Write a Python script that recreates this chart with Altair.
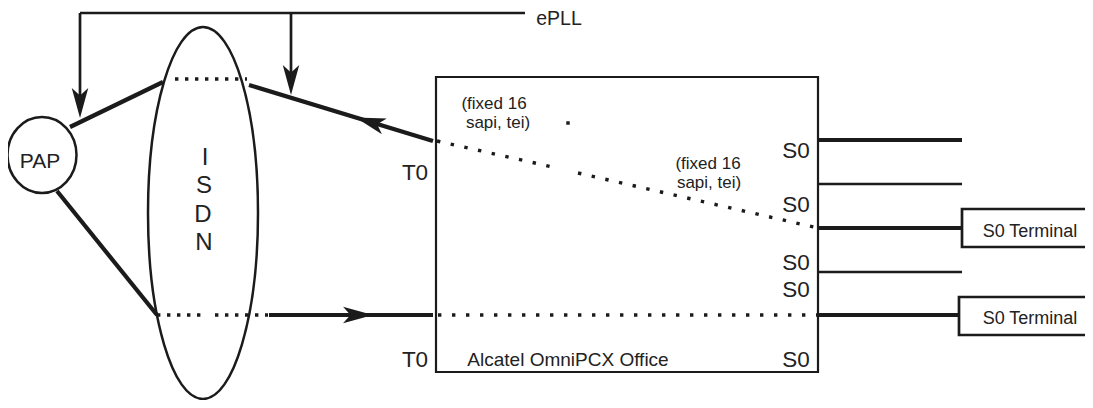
import altair as alt
import pandas as pd

FONT = "Liberation Sans"
INK = "#1b1b1b"

# ---- diagram geometry (pixel coordinates) ----
thick_segments = [  # x1, y1, x2, y2
    (70, 127, 163, 82),
    (249, 85, 433, 141),
    (57, 191, 157, 315),
    (269, 315, 433, 315),
    (818, 140, 962, 140),
    (818, 228, 962, 228),
    (818, 315, 960, 315),
]
medium_segments = [
    (80, 13, 525, 13),
    (80, 13, 80, 100),
    (291, 13, 291, 78),
    (818, 184, 962, 184),
    (818, 272, 962, 272),
]
dotted_isdn = [
    (175, 79, 247, 79),
    (157, 315, 201, 315),
    (215, 315, 268, 315),
]
dotted_box = [
    (437, 141, 557, 168),
    (578, 173, 818, 228),
    (438, 315, 818, 315),
]
lone_dot_x = [568]
lone_dot_y = [123]

boxes = [  # x1, y1, x2, y2
    (436, 77, 818, 372),
    (962, 209, 1100, 247),
    (959, 297, 1100, 335),
]
box_widths = [2.2, 2.7, 2.7]

arrow_x = [80, 291, 370, 358]
arrow_y = [103, 80, 122, 315]
arrow_angle = [180, 180, 287, 90]

# ellipse (ISDN) and circle (PAP)
ellipse_cx = [203, 42]
ellipse_cy = [213, 155]
ellipse_ry = [186, 38]

labels = ["ePLL", "PAP", "I", "S", "D", "N", "T0", "T0",
          "(fixed 16", "sapi, tei)", "(fixed 16", "sapi, tei)",
          "Alcatel OmniPCX Office",
          "S0", "S0", "S0", "S0", "S0",
          "S0 Terminal", "S0 Terminal"]
label_x = [559, 40, 205, 204, 203, 204, 415, 415,
           494, 498, 708, 709,
           568,
           796, 796, 796, 796, 796,
           1030, 1030]
label_y = [25, 168, 165, 193, 222, 250, 180, 367,
           109, 128, 169, 188,
           366,
           158, 212, 270, 297, 367,
           237, 324]
label_size = [19.5, 21, 24, 24, 24, 24, 22.5, 22.5,
              17, 17, 17, 17,
              19,
              22.5, 22.5, 22.5, 22.5, 22.5,
              18, 18]

ARROW = "M0,-1 L0.55,1 L0,0.5 L-0.55,1 Z"
ISDN_SHAPE = ("M0,-1 C0.1634,-1 0.2957,-0.5523 0.2957,0 C0.2957,0.5523 0.1634,1 0,1 "
              "C-0.1634,1 -0.2957,0.5523 -0.2957,0 C-0.2957,-0.5523 -0.1634,-1 0,-1 Z")
PAP_SHAPE = ("M0,-1 C0.5015,-1 0.908,-0.5523 0.908,0 C0.908,0.5523 0.5015,1 0,1 "
             "C-0.5015,1 -0.908,0.5523 -0.908,0 C-0.908,-0.5523 -0.5015,-1 0,-1 Z")

W, H = 1077, 392
xs = alt.Scale(domain=[8, 8 + W], nice=False, zero=False)
ys = alt.Scale(domain=[8, 8 + H], nice=False, zero=False, reverse=True)


def seg_df(segs):
    return pd.DataFrame(segs, columns=["x1", "y1", "x2", "y2"])


def seg_layer(segs, **kw):
    return alt.Chart(seg_df(segs)).mark_rule(color=INK, **kw).encode(
        x=alt.X("x1:Q", scale=xs, axis=None),
        y=alt.Y("y1:Q", scale=ys, axis=None),
        x2="x2:Q", y2="y2:Q")


box_df = seg_df(boxes)
box_df["sw"] = box_widths
box_layer = alt.Chart(box_df).mark_rect(filled=False, stroke=INK).encode(
    x=alt.X("x1:Q", scale=xs, axis=None),
    y=alt.Y("y1:Q", scale=ys, axis=None),
    x2="x2:Q", y2="y2:Q",
    strokeWidth=alt.StrokeWidth("sw:Q", scale=None, legend=None))

thick = seg_layer(thick_segments, strokeWidth=4.2, strokeCap="butt")
medium = seg_layer(medium_segments, strokeWidth=2.7, strokeCap="butt")
dots1 = seg_layer(dotted_isdn, strokeWidth=3.4, strokeDash=[3.4, 6.6], strokeCap="butt")
dots2 = seg_layer(dotted_box, strokeWidth=3.4, strokeDash=[3.4, 10.6], strokeCap="butt")

lone = alt.Chart(pd.DataFrame({"x": lone_dot_x, "y": lone_dot_y})).mark_point(
    shape="square", filled=True, color=INK, size=12, opacity=1).encode(
    x=alt.X("x:Q", scale=xs, axis=None), y=alt.Y("y:Q", scale=ys, axis=None))

arrows = alt.Chart(pd.DataFrame({"x": arrow_x, "y": arrow_y, "a": arrow_angle})).mark_point(
    shape=ARROW, filled=True, color=INK, size=900, opacity=1).encode(
    x=alt.X("x:Q", scale=xs, axis=None), y=alt.Y("y:Q", scale=ys, axis=None),
    angle=alt.Angle("a:Q", scale=None))

isdn = alt.Chart(pd.DataFrame({"x": ellipse_cx[:1], "y": ellipse_cy[:1]})).mark_point(
    shape=ISDN_SHAPE, filled=False, stroke=INK, strokeWidth=2.5,
    size=(2 * ellipse_ry[0]) ** 2, opacity=1).encode(
    x=alt.X("x:Q", scale=xs, axis=None), y=alt.Y("y:Q", scale=ys, axis=None))

pap = alt.Chart(pd.DataFrame({"x": ellipse_cx[1:], "y": ellipse_cy[1:]})).mark_point(
    shape=PAP_SHAPE, filled=False, stroke=INK, strokeWidth=2.5,
    size=(2 * ellipse_ry[1]) ** 2, opacity=1).encode(
    x=alt.X("x:Q", scale=xs, axis=None), y=alt.Y("y:Q", scale=ys, axis=None))

text = alt.Chart(pd.DataFrame({"t": labels, "x": label_x, "y": label_y, "fs": label_size})).mark_text(
    font=FONT, align="center", baseline="alphabetic", color="#222222").encode(
    x=alt.X("x:Q", scale=xs, axis=None), y=alt.Y("y:Q", scale=ys, axis=None),
    text="t:N", size=alt.Size("fs:Q", scale=None, legend=None))

chart = alt.layer(box_layer, medium, thick, dots1, dots2, lone, arrows, isdn, pap, text).properties(
    width=W, height=H, padding=0, background="white",
    autosize=alt.AutoSizeParams(type="none")).configure_view(stroke=None)

chart.save("out.html", embed_options={"renderer": "svg", "actions": False})
